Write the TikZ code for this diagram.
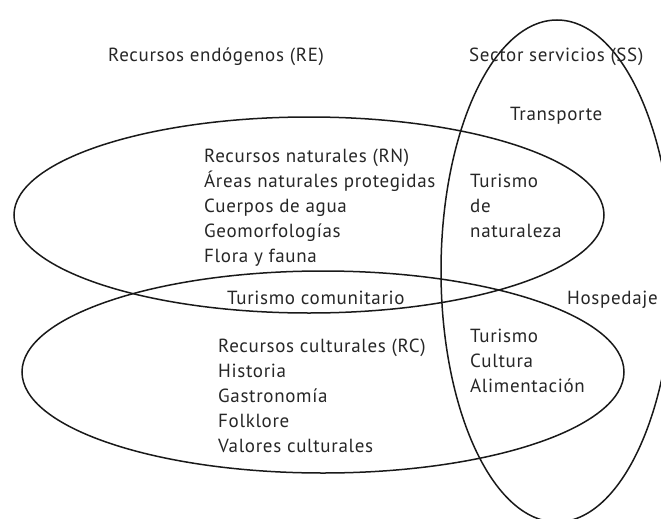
\documentclass[tikz,border=0pt]{standalone}
\usepackage{fontspec}
\setmainfont{PT Sans}[LetterSpace=3.5]
\usetikzlibrary{shapes.geometric}
\begin{document}
\begin{tikzpicture}[x=1pt,y=-1pt,
  ring/.style={draw=black!90, line width=1.5pt, ellipse, inner sep=0pt, outer sep=0pt},
  lbl/.style={anchor=base west, inner sep=0pt, text=black!85,
              font=\fontsize{19}{22}\selectfont}]
\useasboundingbox (0,0) rectangle (661,519);

% the three sets: natural resources, cultural resources, services
\node[ring, minimum width=590pt, minimum height=196pt] (rn) at (309,215) {};
\node[ring, minimum width=602pt, minimum height=202pt] (rc) at (323,372) {};
\node[ring, minimum width=232pt, minimum height=502pt] (ss) at (557,271) {};

% set titles
\node[lbl] (re)  at (108,62) {Recursos endógenos (RE)};
\node[lbl] (sst) at (469,62) {Sector servicios (SS)};
\node[lbl] (tra) at (510,120) {Transporte};
\node[lbl] (hos) at (567,304) {Hospedaje};

% natural resources
\node[lbl] (rn1) at (204,162) {Recursos naturales (RN)};
\node[lbl] (rn2) at (204,187) {Áreas naturales protegidas};
\node[lbl] (rn3) at (204,212) {Cuerpos de agua};
\node[lbl] (rn4) at (204,237) {Geomorfologías};
\node[lbl] (rn5) at (204,262) {Flora y fauna};

% nature tourism
\node[lbl] (tn1) at (470,187) {Turismo};
\node[lbl] (tn2) at (470,212) {de};
\node[lbl] (tn3) at (470,237) {naturaleza};

% community tourism
\node[lbl] (tc) at (227,304) {Turismo comunitario};

% cultural resources
\node[lbl] (rc1) at (218,352) {Recursos culturales (RC)};
\node[lbl] (rc2) at (218,377) {Historia};
\node[lbl] (rc3) at (218,402) {Gastronomía};
\node[lbl] (rc4) at (218,427) {Folklore};
\node[lbl] (rc5) at (218,452) {Valores culturales};

% cultural tourism
\node[lbl] (tu1) at (470,342) {Turismo};
\node[lbl] (tu2) at (470,367) {Cultura};
\node[lbl] (tu3) at (470,392) {Alimentación};
\end{tikzpicture}
\end{document}
